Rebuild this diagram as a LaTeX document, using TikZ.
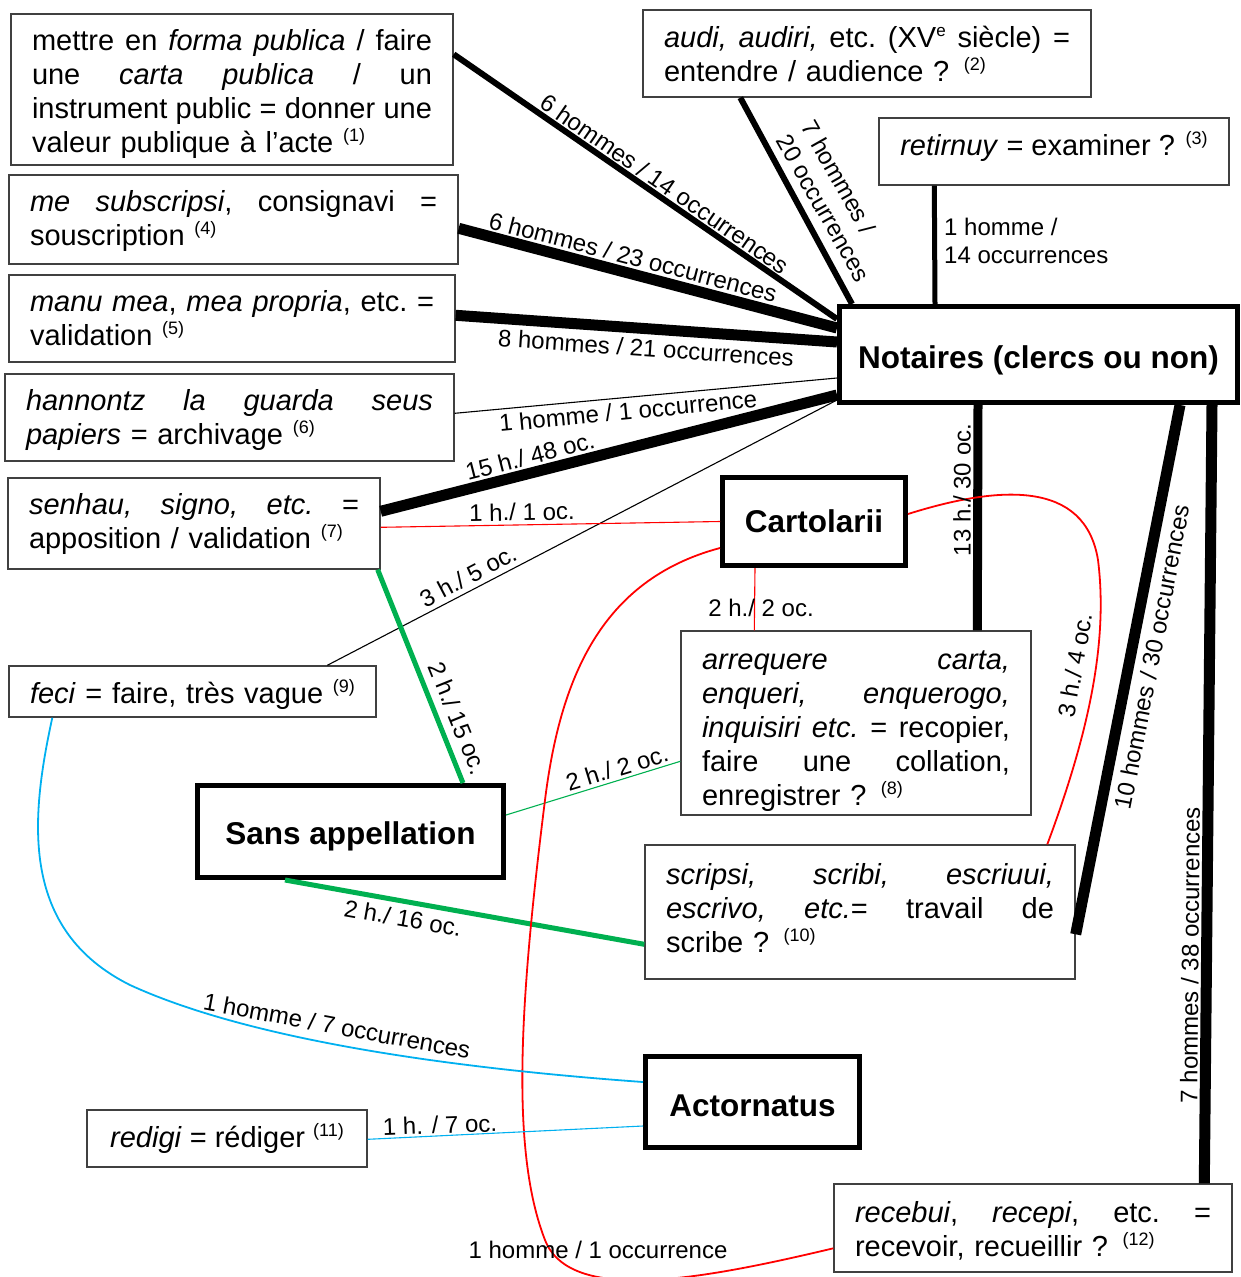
\documentclass[tikz,border=0pt]{standalone}
\usepackage{fontspec}
\setmainfont{Liberation Sans}
\usetikzlibrary{calc}
\definecolor{grn}{HTML}{00B050}
\definecolor{blu}{HTML}{00B0F0}
\definecolor{rd}{HTML}{FF0000}
\newcommand\sups[1]{\raisebox{11pt}{\fontsize{18}{18}\selectfont(#1)}}
\newcommand\supe{\raisebox{11pt}{\fontsize{17}{17}\selectfont e}}
\newcommand\jl[1]{\leavevmode\hbox to \hsize{\frenchspacing\spaceskip=8pt plus 1fil\relax #1}}
\newcommand\up[1]{\rule{0pt}{#1pt}}
\newcommand\dn[1]{\rule[-#1pt]{0pt}{1pt}}
\begin{document}
\begin{tikzpicture}[x=1pt,y=-1pt,
  box/.style={draw=black!75, line width=1.4pt, fill=white, rectangle, inner sep=0pt,
    font=\fontsize{29}{34}\selectfont, align=left},
  bbox/.style={draw=black, line width=5pt, fill=white, rectangle, inner sep=0pt,
    font=\fontsize{31.5}{36}\selectfont\bfseries},
  lab/.style={inner sep=0pt, font=\fontsize{24}{28}\selectfont},
  blk/.style={draw=black, line cap=butt},
  thinred/.style={draw=rd, line width=1.1pt},
  thinblk/.style={draw=black, line width=1.1pt},
]
\useasboundingbox (0,0) rectangle (1240,1277);

% ---------- nodes ----------
\node[box, minimum width=442pt, minimum height=151pt, text width=400pt] (b1) at (232,89.5)
 {\jl{\up{31}mettre en \textit{forma publica} / faire}\\
  \jl{une \textit{carta publica} / un}\\
  \jl{instrument public = donner une}\\
  valeur publique à l’acte \sups{1}};
\node[box, minimum width=448pt, minimum height=87pt, text width=406pt] (b2) at (867,53.5)
 {\jl{\textit{audi, audiri,} etc. (XV\supe{} siècle) =}\\
  entendre / audience ? \sups{2}};
\node[box, minimum width=350pt, minimum height=67pt, align=center] (b3) at (1054,151.5)
 {\textit{retirnuy} = examiner ? \sups{3}\dn{16}};
\node[box, minimum width=449pt, minimum height=89pt, text width=407pt] (b4) at (233.5,219.5)
 {\jl{\up{25}\textit{me subscripsi}, consignavi =}\\
  souscription \sups{4}};
\node[box, minimum width=446pt, minimum height=87pt, text width=404pt] (b5) at (232,318.5)
 {\jl{\textit{manu mea}, \textit{mea propria}, etc. =}\\
  validation \sups{5}};
\node[box, minimum width=449pt, minimum height=87pt, text width=407pt] (b6) at (229.5,417.5)
 {\jl{\up{27}\textit{hannontz la guarda seus}}\\
  \textit{papiers} = archivage \sups{6}};
\node[box, minimum width=372pt, minimum height=91pt, text width=330pt] (b7) at (194,523.5)
 {\jl{\textit{senhau, signo, etc.} =}\\
  apposition / validation \sups{7}};
\node[box, minimum width=367pt, minimum height=51pt, text width=325pt] (feci) at (192.5,691.5)
 {\up{30}\textit{feci} = faire, très vague \sups{9}};
\node[box, minimum width=350pt, minimum height=184pt, text width=308pt] (arreq) at (856,723)
 {\jl{\up{35}\textit{arrequere carta,}}\\
  \jl{\textit{enqueri, enquerogo,}}\\
  \jl{\textit{inquisiri etc.} = recopier,}\\
  \jl{faire une collation,}\\
  enregistrer ? \sups{8}};
\node[box, minimum width=430pt, minimum height=134pt, text width=388pt] (scripsi) at (860,912)
 {\jl{\textit{scripsi, scribi, escriuui,}}\\
  \jl{\textit{escrivo, etc.}= travail de}\\
  scribe ? \sups{10}\dn{8}};
\node[box, minimum width=280pt, minimum height=57pt, align=center] (redigi) at (227,1138.5)
 {\textit{redigi} = rédiger \sups{11}};
\node[box, minimum width=398pt, minimum height=88pt, text width=356pt] (recebui) at (1033,1228)
 {\jl{\up{27}\textit{recebui}, \textit{recepi}, etc. =}\\
  recevoir, recueillir ? \sups{12}};

\node[bbox, minimum width=398pt, minimum height=96pt, text height=28.4pt, text depth=0pt] (notaires) at (1038.5,354.5) {Notaires (clercs ou non)};
\node[bbox, minimum width=183pt, minimum height=88pt] (cart) at (814,521.5) {Cartolarii};
\node[bbox, minimum width=306pt, minimum height=92pt, text height=26.4pt, text depth=0pt] (sans) at (350.5,831.5) {Sans appellation};
\node[bbox, minimum width=214pt, minimum height=91pt, text height=29pt, text depth=0pt] (actor) at (752.5,1102) {Actornatus};

% ---------- connectors ----------
\draw[blk, line width=6pt] ($(b1.north east)+(0,41)$) -- ($(notaires.north west)+(0,15)$);
\draw[blk, line width=6pt] ($(b2.south west)+(98,0)$) -- ($(notaires.north west)+(15,0)$);
\draw[blk, line width=5pt] ($(b3.south west)+(56,0)$) -- ($(notaires.north west)+(98,0)$);
\draw[blk, line width=11pt] ($(b4.north east)+(0,54)$) -- ($(notaires.north west)+(0,24)$);
\draw[blk, line width=11pt] ($(b5.north east)+(0,41)$) -- ($(notaires.north west)+(0,38)$);
\draw[thinblk] ($(b6.north east)+(0,40)$) -- ($(notaires.north west)+(0,74)$);
\draw[blk, line width=11pt] ($(b7.north east)+(0,34)$) -- ($(notaires.north west)+(0,91)$);
\draw[thinblk] ($(feci.north west)+(319,0)$) -- ($(notaires.south west)+(0,-5)$);
\draw[thinred] ($(b7.north east)+(0,50)$) -- (cart.west);
\draw[draw=grn, line width=5pt] ($(b7.south east)+(-3,0)$) -- ($(sans.north west)+(268,0)$);
\draw[blk, line width=9pt] ($(notaires.south west)+(141,0)$) -- ($(arreq.north west)+(297,0)$);
\draw[blk, line width=11pt] ($(notaires.south west)+(343,0)$) -- ($(scripsi.north east)+(0,90)$);
\draw[blk, line width=11pt] ($(notaires.south west)+(375,0)$) -- ($(recebui.north west)+(371,0)$);
\draw[thinred] ($(cart.south west)+(35,0)$) -- ($(arreq.north west)+(74,0)$);
\draw[draw=grn, line width=1.1pt] ($(sans.north east)+(0,32)$) -- ($(arreq.north west)+(0,131)$);
\draw[draw=grn, line width=5pt] ($(sans.south west)+(90,0)$) -- ($(scripsi.north west)+(0,100)$);
\draw[draw=rd, line width=1.8pt] ($(cart.north east)+(0,39)$) .. controls (1000,485) and (1085,480) .. (1098,560)
   .. controls (1108,640) and (1090,730) .. ($(scripsi.north west)+(403,0)$);
\draw[draw=rd, line width=1.8pt] ($(cart.north west)+(0,73)$) .. controls (600,580) and (560,680) .. (545,800)
   .. controls (520,1000) and (510,1150) .. (545,1240) .. controls (570,1304) and (700,1280) .. ($(recebui.north west)+(0,65)$);
\draw[draw=blu, line width=1.8pt] ($(feci.south west)+(44,0)$) .. controls (30,820) and (20,930) .. (130,985)
   .. controls (250,1040) and (450,1068) .. ($(actor.north west)+(0,28)$);
\draw[draw=blu, line width=1.1pt] ($(redigi.north east)+(0,30)$) -- ($(actor.north west)+(0,72)$);

% ---------- labels ----------
\node[lab, rotate=-34.7] (l1) at (665,184) {6 hommes / 14 occurrences};
\node[lab, rotate=-60.5, align=left] (l2) at (836,201) {7 hommes /\\20 occurrences};
\node[lab, anchor=west, align=left] (l3) at (944,241) {1 homme /\\14 occurrences};
\node[lab, rotate=-14.5] (l4) at (633,257) {6 hommes / 23 occurrences};
\node[lab, rotate=-3.9] (l5) at (646,348) {8 hommes / 21 occurrences};
\node[lab, rotate=5.5] (l6) at (628,411) {1 homme / 1 occurrence};
\node[lab, rotate=14.4] (l7) at (530,456) {15 h./ 48 oc.};
\node[lab, rotate=1] (l8) at (522,512) {1 h./ 1 oc.};
\node[lab, rotate=27.7] (l9) at (468,576) {3 h./ 5 oc.};
\node[lab, rotate=-68] (l10) at (458,718) {2 h./ 15 oc.};
\node[lab, rotate=90] (l11) at (962,490) {13 h./ 30 oc.};
\node[lab, rotate=79] (l12) at (1152,657) {10 hommes / 30 occurrences};
\node[lab, rotate=89.5] (l13) at (1190,955) {7 hommes / 38 occurrences};
\node[lab] (l14) at (761,608) {2 h./ 2 oc.};
\node[lab, rotate=17] (l15) at (617,768) {2 h./ 2 oc.};
\node[lab, rotate=-10] (l16) at (403,918) {2 h./ 16 oc.};
\node[lab, rotate=80] (l17) at (1075,665) {3 h./ 4 oc.};
\node[lab] (l18) at (598,1250) {1 homme / 1 occurrence};
\node[lab, rotate=-10.5] (l19) at (337,1026) {1 homme / 7 occurrences};
\node[lab, rotate=2] (l20) at (440,1125) {1 h. / 7 oc.};
\end{tikzpicture}
\end{document}
